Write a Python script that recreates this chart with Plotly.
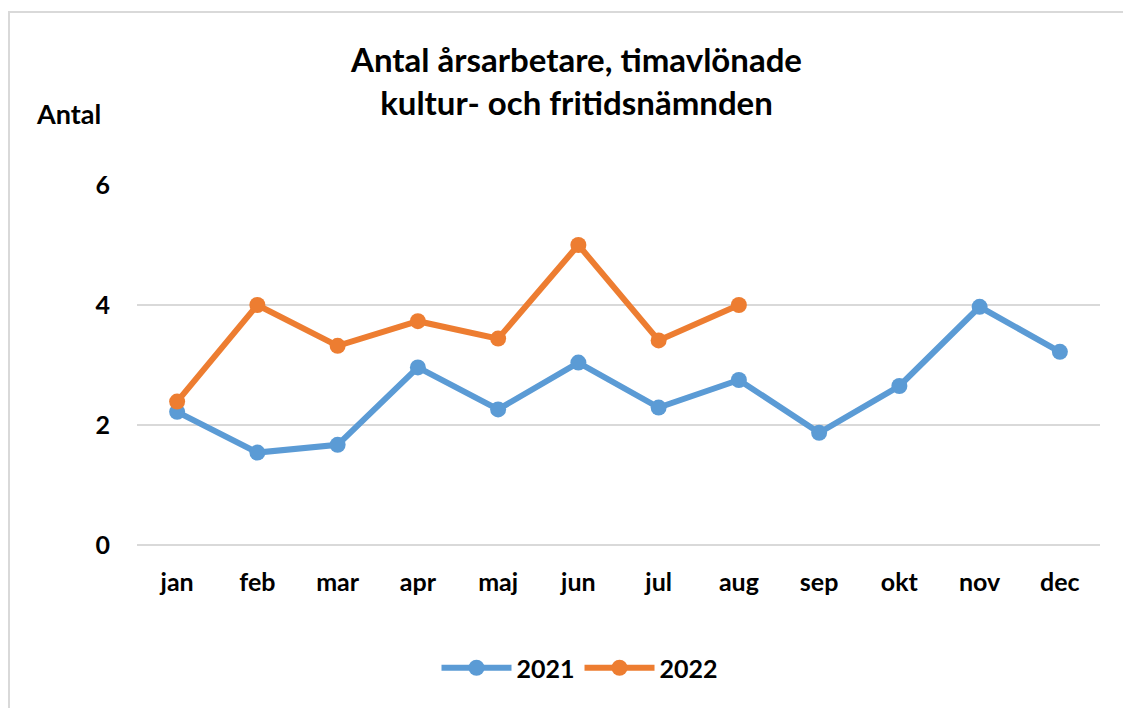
import plotly.graph_objects as go

months = ["jan", "feb", "mar", "apr", "maj", "jun", "jul", "aug", "sep", "okt", "nov", "dec"]
values_2021 = [2.22, 1.54, 1.67, 2.96, 2.26, 3.04, 2.29, 2.75, 1.87, 2.65, 3.97, 3.22]
values_2022 = [2.39, 4.0, 3.32, 3.73, 3.44, 5.0, 3.41, 4.0]
y_ticks = [0, 2, 4, 6]

FONT = "Lato"
OFF = 8  # page body margin
W, H = 1131 - OFF, 708 - OFF
L, T = 137 - OFF, 185 - OFF
pw, ph = 963, 360
R, B = W - L - pw, H - T - ph


def px_x(x):
    return (x - OFF - L) / pw


def px_y(y):
    return (T + ph - (y - OFF)) / ph


fig = go.Figure()
fig.add_trace(go.Scatter(
    x=months, y=values_2021, name="2021", mode="lines+markers",
    line=dict(color="#5B9BD5", width=6), marker=dict(size=16, color="#5B9BD5"),
))
fig.add_trace(go.Scatter(
    x=months[:len(values_2022)], y=values_2022, name="2022", mode="lines+markers",
    line=dict(color="#ED7D31", width=6), marker=dict(size=16, color="#ED7D31"),
))

fig.update_layout(
    width=W, height=H,
    margin=dict(l=L, r=R, t=T, b=B, autoexpand=False),
    paper_bgcolor="white", plot_bgcolor="white",
    font=dict(family=FONT, color="#000000", size=25),
    showlegend=True,
    legend=dict(orientation="h", x=px_x(580), y=px_y(668), xanchor="center", yanchor="middle",
                font=dict(size=25, family=FONT, color="#000000", weight="bold"),
                itemwidth=70, tracegroupgap=0),
    xaxis=dict(
        categoryorder="array", categoryarray=months, range=[-0.5, 11.5],
        showgrid=False, zeroline=False, showline=False, ticks="",
        tickfont=dict(size=25, family=FONT, color="#000000", weight="bold"),
        ticklabelstandoff=20,
    ),
    yaxis=dict(
        range=[0, 6], tickvals=y_ticks, showgrid=True, gridcolor="#d9d9d9", gridwidth=2,
        zeroline=True, zerolinecolor="#d9d9d9", zerolinewidth=2, showline=False, ticks="",
        tickfont=dict(size=25, family=FONT, color="#000000", weight="bold"),
        ticklabelstandoff=26,
    ),
    annotations=[
        dict(text="Antal årsarbetare, timavlönade<br>kultur- och fritidsnämnden",
             xref="paper", yref="paper", x=px_x(576), y=px_y(81),
             xanchor="center", yanchor="middle", showarrow=False,
             font=dict(size=33, family=FONT, color="#000000", weight="bold")),
        dict(text="Antal", xref="paper", yref="paper", x=px_x(68), y=px_y(113),
             xanchor="center", yanchor="middle", showarrow=False,
             font=dict(size=27, family=FONT, color="#000000", weight="bold")),
    ],
    shapes=[
        dict(type="rect", xref="paper", yref="paper",
             x0=px_x(9), x1=px_x(1200), y0=px_y(800), y1=px_y(12),
             line=dict(color="#d9d9d9", width=2), fillcolor="rgba(0,0,0,0)", layer="below"),
    ],
)

fig.write_html("out.html")
